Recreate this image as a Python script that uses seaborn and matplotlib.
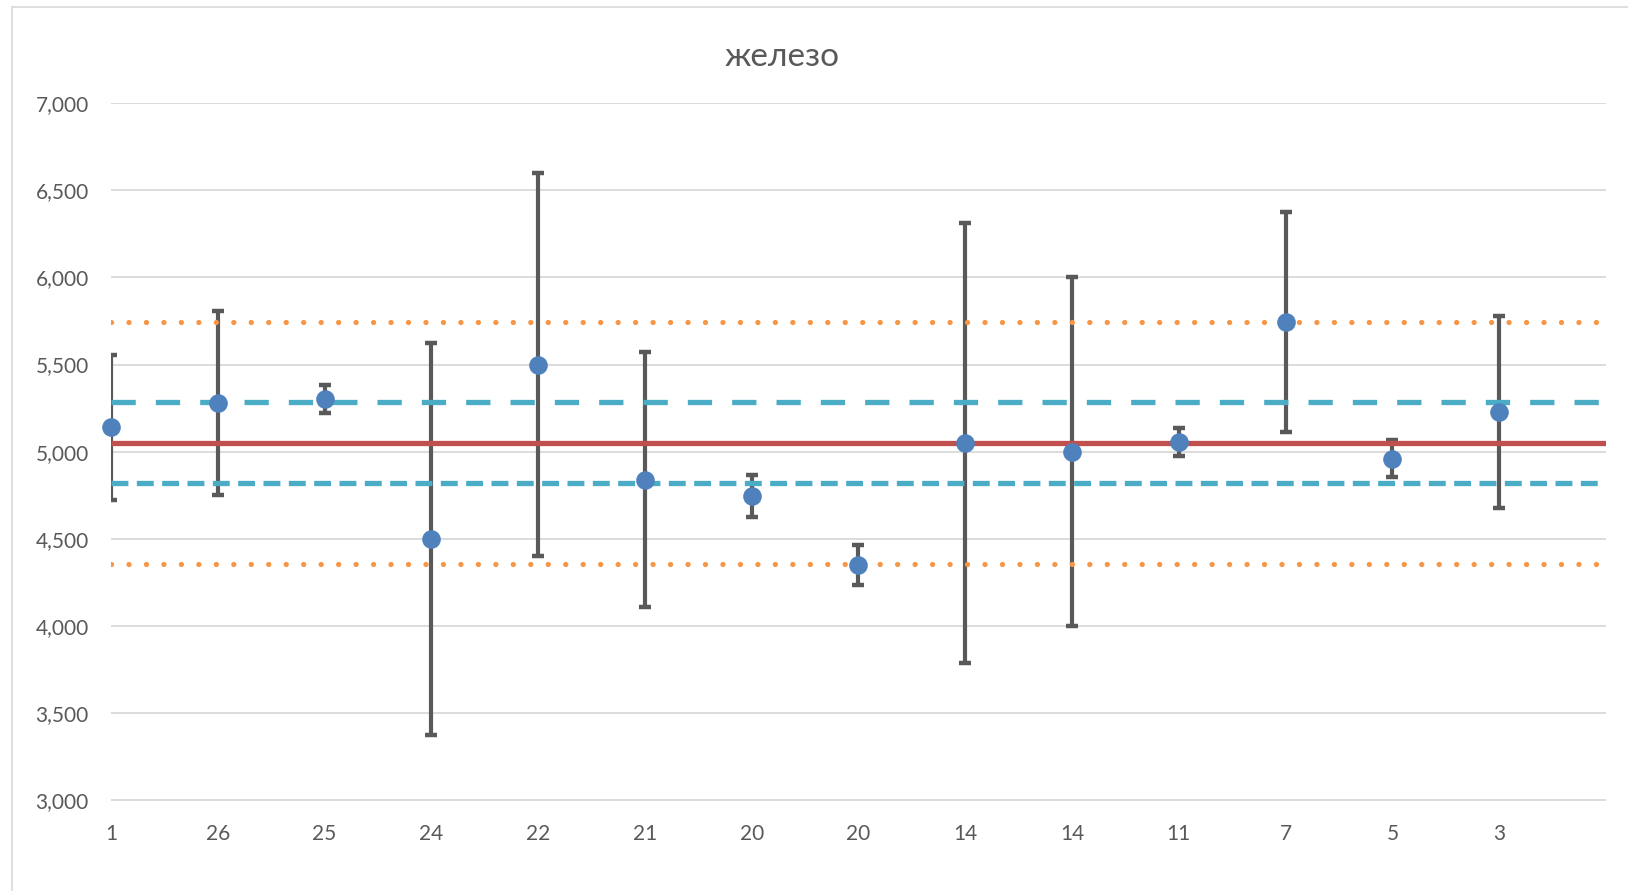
import numpy as np
import pandas as pd
import matplotlib
matplotlib.use("Agg")
import matplotlib.pyplot as plt
import seaborn as sns
from matplotlib.patches import Rectangle

# data
labels = ["1", "26", "25", "24", "22", "21", "20", "20", "14", "14", "11", "7", "5", "3"]
values = [5140, 5280, 5300, 4500, 5500, 4840, 4745, 4350, 5050, 5000, 5055, 5745, 4960, 5230]
errors = [415, 530, 80, 1125, 1100, 730, 120, 113, 1262, 1000, 80, 630, 107, 550]
center = 5052
inner_band = [5284, 4820]
outer_band = [5746, 4357]

TEXT = "#595959"
GRID = "#D9D9D9"

sns.set_theme(style="white")
plt.rcParams["font.family"] = ["Lato", "Open Sans", "DejaVu Sans"]

df = pd.DataFrame({"pos": np.arange(len(labels)), "value": values, "err": errors})

fig = plt.figure(figsize=(16.28, 8.91), dpi=100)
ax = fig.add_axes([111 / 1628, 1 - 800.5 / 891, (1606 - 111) / 1628, (800.5 - 103) / 891])

# chart-area frame (Excel style), cut off on the right and bottom
fig.patches.append(Rectangle((12 / 1628, -0.1), 1.2, 1 - 7 / 891 + 0.1,
                             transform=fig.transFigure, fill=False,
                             edgecolor=GRID, linewidth=1.2, zorder=0))

ax.errorbar(df["pos"], df["value"], yerr=df["err"], fmt="none",
            ecolor="#595959", elinewidth=3.0, capsize=4.5, capthick=3.2, zorder=2)

ax.hlines(outer_band, 0, len(labels), colors="#F79646", linewidth=3.8,
          linestyles=[(0, (0.01, 3.3))] * 2, capstyle="round", zorder=3)
ax.hlines(inner_band[0], 0, len(labels), colors="#4BACC6", linewidth=3.8,
          linestyles=[(0, (4.6, 3.8))], zorder=3)
ax.hlines(inner_band[1], 0, len(labels), colors="#4BACC6", linewidth=3.8,
          linestyles=[(0, (3.2, 1.6))], zorder=3)
ax.hlines(center, 0, len(labels), colors="#C0504D", linewidth=3.8, zorder=4)

sns.scatterplot(data=df, x="pos", y="value", ax=ax, s=180, color="#4F81BD",
                edgecolor="#4F81BD", linewidth=0, zorder=5, clip_on=False)

ax.set_xlim(0, len(labels))
ax.set_ylim(3000, 7000)
ax.set_xticks(df["pos"])
ax.set_xticklabels(labels)
ax.set_yticks(np.arange(3000, 7001, 500))
ax.yaxis.set_major_formatter(matplotlib.ticker.FuncFormatter(lambda v, p: f"{int(v):,}"))
ax.tick_params(axis="both", length=0, labelsize=15, labelcolor=TEXT)
ax.tick_params(axis="y", pad=16)
ax.tick_params(axis="x", pad=17)
ax.grid(axis="y", color=GRID, linewidth=1.3)
ax.set_axisbelow(True)
for s in ax.spines.values():
    s.set_visible(False)
ax.set_xlabel("")
ax.set_ylabel("")

fig.text(782 / 1628, 1 - 57 / 891, "железо", ha="center", va="center",
         fontsize=24, color=TEXT, family=["Lato", "Open Sans", "DejaVu Sans"])

fig.savefig("out.png", dpi=100)
